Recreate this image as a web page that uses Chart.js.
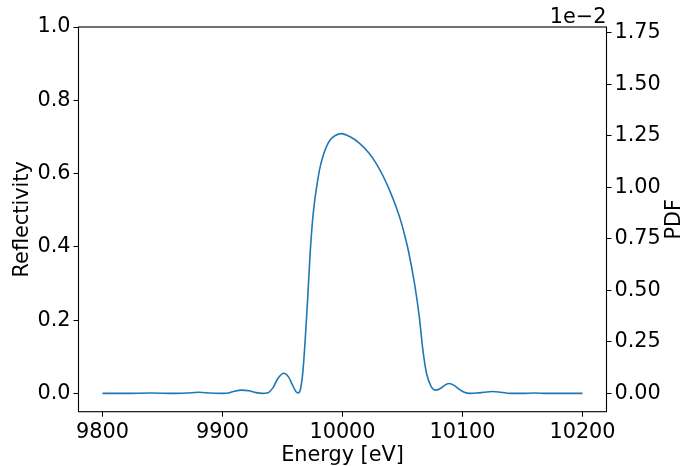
<!DOCTYPE html>
<html><head><meta charset="utf-8">
<script src="https://cdn.jsdelivr.net/npm/chart.js@4/dist/chart.umd.min.js"></script>
<style>html,body{margin:0;padding:0;background:#fff}#wrap{width:697px;height:466px}</style>
</head><body><div id="wrap"><canvas id="c" width="697" height="466"></canvas></div>
<script>
const energy = [9800,9820,9840,9860,9870,9880,9890,9900,9905,9910,9916,9922,9928,9933,9938,9942,9946,9951,9955,9958,9961,9963,9965,9967,9969,9971,9973,9975,9977,9979,9981,9984,9987,9990,9994,9999,10006,10014,10022,10028,10034,10039,10045,10049,10052,10055,10060,10064,10067,10070,10074,10078,10082,10086,10089,10093,10097,10101,10106,10112,10118,10125,10132,10140,10150,10160,10170,10180,10200];
const reflectivity = [0.000,0.000,0.001,0.000,0.001,0.003,0.001,0.000,0.001,0.006,0.009,0.007,0.002,0.000,0.002,0.015,0.040,0.055,0.045,0.025,0.006,0.001,0.012,0.060,0.150,0.260,0.380,0.470,0.530,0.575,0.613,0.650,0.676,0.693,0.704,0.709,0.701,0.683,0.656,0.628,0.592,0.556,0.506,0.466,0.429,0.388,0.300,0.209,0.118,0.055,0.018,0.009,0.014,0.024,0.027,0.022,0.012,0.004,0.000,0.001,0.003,0.005,0.003,0.000,0.000,0.001,0.000,0.000,0.000];
const xTicks = [9800,9900,10000,10100,10200];
const yTicks = [0.0,0.2,0.4,0.6,0.8,1.0];
const y2Ticks = [0.00,0.25,0.50,0.75,1.00,1.25,1.50,1.75];
const xLabel = 'Energy [eV]';
const yLabel = 'Reflectivity';
const y2Label = 'PDF';
const y2Exponent = '1e\u22122';

const FONT = 'DejaVu Sans';
const FS = 20.8;
const L = 78.5, R = 606.5, T = 27, B = 411.7, W = 697, H = 466;

const frame = {
  id: 'frame',
  afterDraw(chart) {
    const ctx = chart.ctx, a = chart.chartArea;
    const cy = (a.top + a.bottom) / 2, cx = (a.left + a.right) / 2;
    ctx.save();
    ctx.strokeStyle = '#000'; ctx.lineWidth = 1.1;
    ctx.strokeRect(a.left, a.top, a.right - a.left, a.bottom - a.top);
    ctx.fillStyle = '#000';
    ctx.font = FS + 'px "' + FONT + '"';
    ctx.textBaseline = 'alphabetic';
    ctx.textAlign = 'right';
    ctx.fillText(y2Exponent, a.right, a.top - 4);
    ctx.textAlign = 'center';
    ctx.fillText(xLabel, cx, 461);
    ctx.save();
    ctx.translate(28, cy); ctx.rotate(-Math.PI / 2);
    ctx.fillText(yLabel, 0, 0);
    ctx.restore();
    ctx.save();
    ctx.translate(680, cy); ctx.rotate(-Math.PI / 2);
    ctx.fillText(y2Label, 0, 0);
    ctx.restore();
    ctx.restore();
  }
};

new Chart(document.getElementById('c'), {
  type: 'line',
  data: {
    datasets: [{
      data: energy.map((e, i) => ({x: e, y: reflectivity[i]})),
      borderColor: '#1f77b4', borderWidth: 1.6, pointRadius: 0,
      cubicInterpolationMode: 'monotone', fill: false, yAxisID: 'y'
    }]
  },
  options: {
    responsive: false, animation: false, devicePixelRatio: 1,
    layout: {padding: {top: T, left: 0, right: 0, bottom: 0}},
    plugins: {legend: {display: false}, tooltip: {enabled: false}},
    scales: {
      x: {
        type: 'linear', min: 9780, max: 10220,
        afterBuildTicks: s => { s.ticks = xTicks.map(v => ({value: v})); },
        afterFit: s => { s.height = H - B; },
        ticks: {color: '#000', font: {family: FONT, size: FS}, padding: 3, maxRotation: 0, callback: v => String(v)},
        grid: {drawOnChartArea: false, drawTicks: true, tickLength: 5, color: '#000', lineWidth: 1},
        border: {display: false}
      },
      y: {
        type: 'linear', position: 'left', min: -0.05, max: 1.0,
        afterBuildTicks: s => { s.ticks = yTicks.map(v => ({value: v})); },
        afterFit: s => { s.width = L; },
        ticks: {color: '#000', font: {family: FONT, size: FS}, padding: 3, callback: v => v.toFixed(1)},
        grid: {drawOnChartArea: false, drawTicks: true, tickLength: 5, color: '#000', lineWidth: 1},
        border: {display: false}
      },
      y2: {
        type: 'linear', position: 'right', min: -0.0889, max: 1.778,
        afterBuildTicks: s => { s.ticks = y2Ticks.map(v => ({value: v})); },
        afterFit: s => { s.width = W - R; },
        ticks: {color: '#000', font: {family: FONT, size: FS}, padding: 3, callback: v => v.toFixed(2)},
        grid: {drawOnChartArea: false, drawTicks: true, tickLength: 5, color: '#000', lineWidth: 1},
        border: {display: false}
      }
    }
  },
  plugins: [frame]
});
</script></body></html>
